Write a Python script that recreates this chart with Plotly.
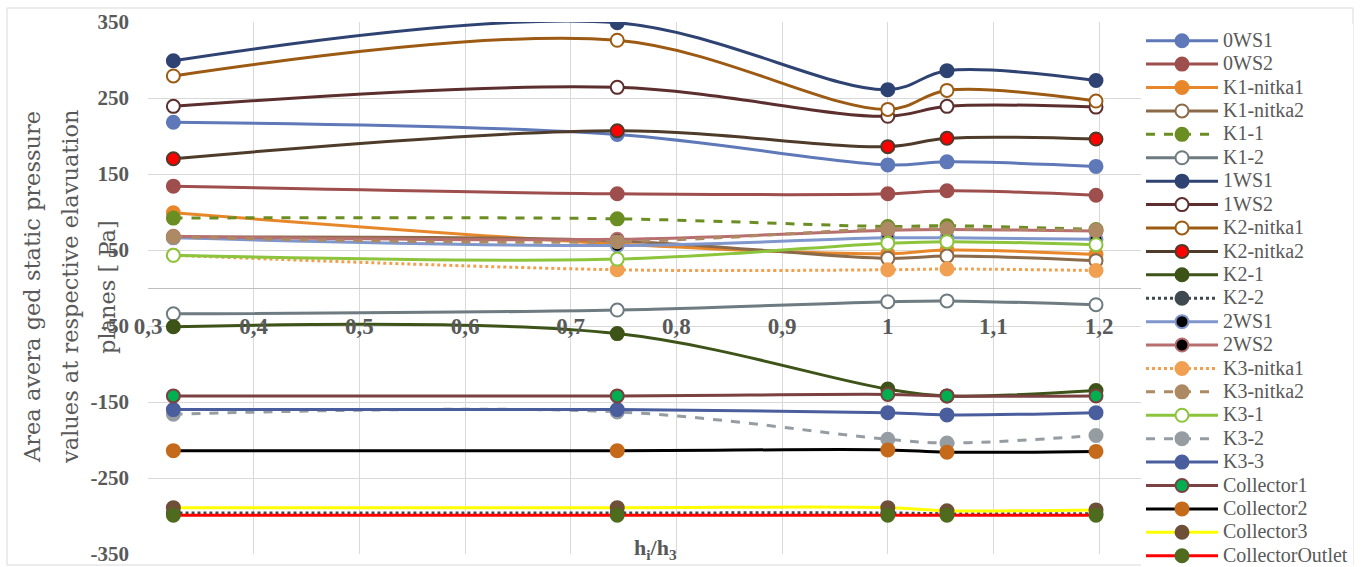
import plotly.graph_objects as go

# ---------------- data ----------------
x_vals = [0.324, 0.744, 1.0, 1.056, 1.197]

series_names = ["0WS1", "0WS2", "K1-nitka1", "K1-nitka2", "K1-1", "K1-2", "1WS1", "1WS2",
                "K2-nitka1", "K2-nitka2", "K2-1", "K2-2", "2WS1", "2WS2", "K3-nitka1",
                "K3-nitka2", "K3-1", "K3-2", "K3-3", "Collector1", "Collector2",
                "Collector3", "CollectorOutlet"]

ws0_1 = [218, 202, 162, 166, 160]
ws0_2 = [134, 124, 124, 128, 122]
k1_nitka1 = [99, 58, 45, 50, 44]
k1_nitka2 = [67, 62, 39, 42, 36]
k1_1 = [92, 91, 81, 82, 77]
k1_2 = [-34, -29, -18, -17, -22]
ws1_1 = [299, 349, 261, 286, 273]
ws1_2 = [239, 264, 226, 239, 238]
k2_nitka1 = [279, 326, 235, 260, 246]
k2_nitka2 = [170, 207, 186, 197, 196]
k2_1 = [-51, -60, -133, -142, -135]
k2_2 = [-296, -296, -296, -297, -297]
ws2_1 = [66, 56, 66, 66, 64]
ws2_2 = [68, 64, 76, 77, 75]
k3_nitka1 = [43, 24, 24, 25, 23]
k3_nitka2 = [67, 61, 78, 78, 76]
k3_1 = [43, 38, 59, 61, 57]
k3_2 = [-166, -163, -199, -204, -194]
k3_3 = [-160, -160, -164, -167, -164]
collector1 = [-142, -142, -140, -142, -142]
collector2 = [-214, -214, -213, -216, -215]
collector3 = [-289, -289, -289, -293, -292]
collector_outlet = [-299, -299, -299, -299, -299]

series_values = [ws0_1, ws0_2, k1_nitka1, k1_nitka2, k1_1, k1_2, ws1_1, ws1_2,
                 k2_nitka1, k2_nitka2, k2_1, k2_2, ws2_1, ws2_2, k3_nitka1,
                 k3_nitka2, k3_1, k3_2, k3_3, collector1, collector2,
                 collector3, collector_outlet]

x_tickvals = [0.3, 0.4, 0.5, 0.6, 0.7, 0.8, 0.9, 1.0, 1.1, 1.2]
x_ticktext = ["0,3", "0,4", "0,5", "0,6", "0,7", "0,8", "0,9", "1", "1,1", "1,2"]
y_tickvals = [-350, -250, -150, -50, 50, 150, 250, 350]
y_ticktext = ["-350", "-250", "-150", "-50", "50", "150", "250", "350"]

y_title_lines = ["Area avera ged static pressure", "values at respective elavuation", "planes [ Pa]"]
x_title = "h<sub>i</sub>/h<sub>3</sub>"

# ---------------- styles: (line colour, dash, marker fill, marker outline) ----------------
styles = [
    ("#5E78B8", "solid", "#5E78B8", "#5E78B8"),
    ("#9E4F4D", "solid", "#9E4F4D", "#9E4F4D"),
    ("#E8862A", "solid", "#E8862A", "#E8862A"),
    ("#8B6A4A", "solid", "white", "#8B6A4A"),
    ("#6B8E23", "dash", "#6B8E23", "#6B8E23"),
    ("#6E7B80", "solid", "white", "#6E7B80"),
    ("#2F4373", "solid", "#2F4373", "#2F4373"),
    ("#5C2E2E", "solid", "white", "#5C2E2E"),
    ("#9C5A13", "solid", "white", "#9C5A13"),
    ("#4E3B2A", "solid", "#FF0000", "#4E3B2A"),
    ("#3D5317", "solid", "#3D5317", "#3D5317"),
    ("#3F4A50", "dot", "#3F4A50", "#3F4A50"),
    ("#7F97CC", "solid", "#000000", "#7F97CC"),
    ("#B86E6E", "solid", "#000000", "#B86E6E"),
    ("#F0A050", "dot", "#F0A050", "#F0A050"),
    ("#AD8A64", "dash", "#AD8A64", "#AD8A64"),
    ("#8CC43C", "solid", "white", "#8CC43C"),
    ("#959DA3", "dash", "#959DA3", "#959DA3"),
    ("#4A5E9E", "solid", "#4A5E9E", "#4A5E9E"),
    ("#7B4040", "solid", "#00B050", "#7B4040"),
    ("#000000", "solid", "#C46A1A", "#C46A1A"),
    ("#FFFF00", "solid", "#6E5038", "#6E5038"),
    ("#FF0000", "solid", "#4E6B1E", "#4E6B1E"),
]

W, H = 1362, 567
L, R, T, B = 148, 1152, 22, 554
PW, PH = R - L, B - T


def px_x(px):
    return (px - L) / PW


def px_y(py):
    return (B - py) / PH


GREY = "#595959"
fig = go.Figure()
for name, vals, (lc, dash, mf, ml) in zip(series_names, series_values, styles):
    fig.add_trace(go.Scatter(
        x=x_vals, y=vals, mode="lines+markers",
        name='<span style="font-size:20px">' + name + '</span>',
        line=dict(color=lc, width=3, dash=dash, shape="spline"),
        marker=dict(size=13, color=mf, line=dict(color=ml, width=2)),
    ))

fig.update_layout(
    width=W, height=H,
    margin=dict(l=L, r=W - R, t=T, b=H - B, autoexpand=False),
    plot_bgcolor="white", paper_bgcolor="white",
    showlegend=True,
    legend=dict(
        x=px_x(1141), y=px_y(24), xanchor="left", yanchor="top",
        font=dict(family="Liberation Serif", size=15.7, color=GREY),
        bgcolor="white", borderwidth=0, itemwidth=72, maxheight=700,
    ),
    xaxis=dict(
        range=[0.3, 1.25], tickvals=x_tickvals, ticktext=x_ticktext,
        showgrid=True, gridcolor="#d9d9d9", gridwidth=1,
        anchor="free", position=0.5, showline=True, linecolor="#bfbfbf", linewidth=1,
        ticks="", ticklabelstandoff=17, zeroline=False,
        tickfont=dict(family="Liberation Serif", size=23, color=GREY, weight="bold"),
    ),
    yaxis=dict(
        range=[-350, 350], tickvals=y_tickvals, ticktext=y_ticktext,
        showgrid=True, gridcolor="#d9d9d9", gridwidth=1, zeroline=False,
        ticks="", ticklabelstandoff=18,
        tickfont=dict(family="Liberation Serif", size=21, color=GREY, weight="bold"),
    ),
)

# y-axis title (three rotated lines)
for px_pos, line in zip([32, 70, 107], y_title_lines):
    fig.add_annotation(
        x=px_x(px_pos), y=px_y(287), xref="paper", yref="paper",
        text=line, textangle=-90, showarrow=False,
        xanchor="center", yanchor="middle",
        font=dict(family="DejaVu Serif", size=22.5, color=GREY),
    )

# x-axis title
fig.add_annotation(
    x=px_x(655), y=px_y(549), xref="paper", yref="paper",
    text=x_title, showarrow=False, xanchor="center", yanchor="middle",
    font=dict(family="Liberation Serif", size=22, color=GREY, weight="bold"),
)

# chart outer border
fig.add_shape(type="rect", xref="paper", yref="paper",
              x0=px_x(7), x1=px_x(1353), y0=px_y(565), y1=px_y(8),
              line=dict(color="#d9d9d9", width=1), layer="below")

fig.write_html(
    "out.html",
    config={"displayModeBar": False},
    post_script="document.body.style.margin='0';document.body.style.overflow='hidden';",
)
